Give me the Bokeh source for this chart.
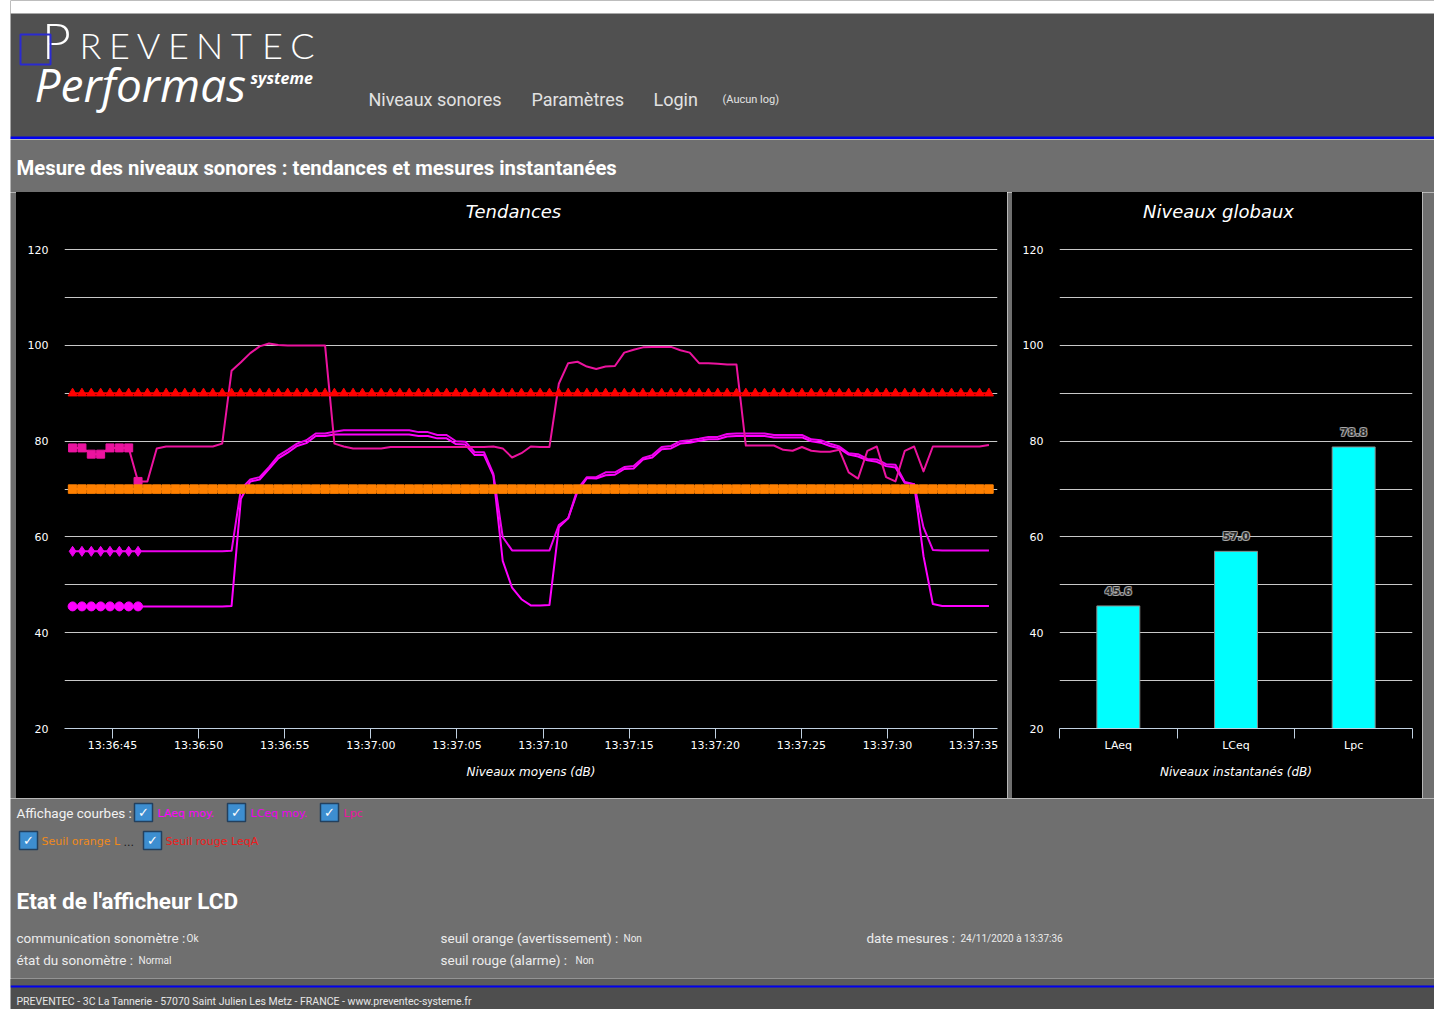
from bokeh.plotting import figure
from bokeh.models import Range1d, FixedTicker, Spacer
from bokeh.layouts import row, column
from bokeh.embed import file_html
from bokeh.resources import INLINE
from bokeh.core.properties import value

# ---------------- data ----------------
time_ticks = [45, 50, 55, 60, 65, 70, 75, 80, 85, 90, 95]  # seconds after 13:36:00
time_tick_labels = ["13:36:45", "13:36:50", "13:36:55", "13:37:00", "13:37:05", "13:37:10",
                    "13:37:15", "13:37:20", "13:37:25", "13:37:30", "13:37:35"]
t_first = 42.68   # first sample, seconds after 13:36:00
t_step = 0.543    # sampling interval (s)

lpc = [78.6, 78.6, 77.3, 77.3, 78.6, 78.6, 78.6, 71.6, 71.6, 78.5,
       78.9, 78.9, 78.9, 78.9, 78.9, 78.9, 79.5, 94.7, 96.5, 98.4,
       99.8, 100.4, 100.1, 100.0, 100.0, 100.0, 100.0, 100.0, 79.5, 78.9,
       78.5, 78.5, 78.5, 78.5, 78.8, 78.8, 78.8, 78.8, 78.8, 78.8,
       78.8, 78.8, 78.8, 78.8, 78.8, 78.9, 78.5, 76.6, 77.5, 78.9,
       78.8, 78.8, 92.0, 96.3, 96.6, 95.6, 95.1, 95.6, 95.7, 98.5,
       99.1, 99.6, 99.7, 99.7, 99.7, 99.0, 98.5, 96.3, 96.3, 96.2,
       96.0, 96.0, 79.1, 79.1, 79.1, 79.1, 78.2, 78.0, 78.8, 78.0,
       77.8, 77.8, 78.2, 73.5, 72.2, 78.0, 78.9, 72.5, 71.6, 78.0,
       78.9, 73.7, 78.9, 78.9, 78.9, 78.9, 78.9, 78.9, 79.2]

lceq_moy = [57.0, 57.0, 57.0, 57.0, 57.0, 57.0, 57.0, 57.0, 57.0, 57.0,
            57.0, 57.0, 57.0, 57.0, 57.0, 57.0, 57.0, 57.1, 70.0, 72.0,
            72.5, 74.6, 77.0, 78.2, 79.5, 80.2, 81.6, 81.6, 82.0, 82.3,
            82.3, 82.3, 82.3, 82.3, 82.3, 82.3, 82.3, 81.9, 81.9, 81.3,
            81.3, 80.0, 79.9, 77.7, 77.7, 73.2, 60.0, 57.2, 57.2, 57.2,
            57.2, 57.2, 62.5, 63.9, 70.0, 72.5, 72.5, 73.5, 73.5, 74.6,
            74.8, 76.5, 77.1, 78.8, 79.0, 80.0, 80.2, 80.5, 80.9, 80.9,
            81.5, 81.6, 81.6, 81.6, 81.6, 81.3, 81.3, 81.3, 81.3, 80.4,
            80.2, 79.5, 78.9, 77.5, 77.3, 76.3, 76.2, 75.2, 75.1, 71.5,
            71.0, 62.0, 57.3, 57.2, 57.2, 57.2, 57.2, 57.2, 57.2]

laeq_moy = [45.5, 45.5, 45.5, 45.5, 45.5, 45.5, 45.5, 45.5, 45.5, 45.5,
            45.5, 45.5, 45.5, 45.5, 45.5, 45.5, 45.5, 45.6, 68.0, 71.6,
            72.0, 74.2, 76.4, 77.6, 79.0, 79.6, 81.1, 81.1, 81.4, 81.4,
            81.4, 81.4, 81.4, 81.4, 81.4, 81.4, 81.4, 81.1, 81.1, 80.6,
            80.6, 79.4, 79.3, 77.1, 77.1, 72.8, 55.0, 49.4, 47.0, 45.7,
            45.7, 45.8, 62.0, 63.9, 69.5, 72.3, 72.2, 72.9, 73.0, 74.2,
            74.3, 76.2, 76.6, 78.3, 78.5, 79.5, 79.7, 80.1, 80.4, 80.4,
            81.0, 81.1, 81.1, 81.1, 81.1, 80.8, 80.8, 80.8, 80.8, 80.0,
            79.7, 79.0, 78.5, 77.2, 76.8, 76.0, 75.7, 74.8, 74.5, 71.3,
            71.0, 56.0, 46.0, 45.6, 45.6, 45.6, 45.6, 45.6, 45.6]

seuil_orange = 70.0   # Seuil orange LeqA
seuil_rouge = 90.0    # Seuil rouge LeqA
n_marked = 8          # leading points drawn with markers

bar_categories = ["LAeq", "LCeq", "Lpc"]
bar_values = [45.6, 57.0, 78.8]

# ---------------- styling ----------------
W = 1424
HEAD_BG = "#505050"
GRAY = "#6f6f6f"
BLUE = "#0000ee"
AX = "#c0d0e0"
GRID = "#c8c8c8"
C_LAEQ = "#ff00ff"
C_LCEQ = "#ee00ee"
C_LPC = "#ec139f"
C_ORANGE = "#ff8000"
C_RED = "#ff0000"
UI = "Roboto"
CHART_FONT = "DejaVu Sans"
Y_MIN, Y_MAX = 20, 120.25   # small headroom so the 120 gridline is not clipped


def deco(width, height, bg, xr=None, **kw):
    f = figure(width=width, height=height, x_range=Range1d(0, xr if xr else width), y_range=Range1d(height, 0),
               output_backend="svg", toolbar_location=None,
               x_axis_location=None, y_axis_location=None,
               background_fill_color=bg, border_fill_color=bg, outline_line_color=None, **kw)
    if "min_border_left" not in kw:
        f.min_border = 0
    f.grid.grid_line_color = None
    return f


def txt(f, x, y, s, size, color, font=UI, style="normal", align="left", baseline="middle"):
    f.text(x=[x], y=[y], text=[s], text_font=value(font), text_font_size=f"{size}px",
           text_color=color, text_font_style=style, text_align=align, text_baseline=baseline)


# ---------------- header (local y == page y) ----------------
hdr = deco(W, 139, HEAD_BG)
hdr.quad(left=[0], right=[W], top=[0], bottom=[13], color="white", line_color=None)
hdr.quad(left=[0], right=[W], top=[136], bottom=[139], color=BLUE, line_color=None)
txt(hdr, 46, 39, "P", 50, "white", font="Lato Light", align="center")
logo_letters = ["R", "E", "V", "E", "N", "T", "E", "C"]
logo_centers = [80, 109, 138, 168, 199, 231, 262, 292]
hdr.text(x=logo_centers, y=[44] * 8, text=logo_letters, text_font=value("Lato Light"),
         text_font_size="36px", text_color="white", text_align="center", text_baseline="middle")
hdr.quad(left=[10], right=[40], top=[34], bottom=[64], fill_color=None, line_color="#2a2ad0", line_width=2)
txt(hdr, 24, 83, "Performas", 46, "white", font="Open Sans", style="italic")
txt(hdr, 240, 77, "systeme", 16, "white", font="Open Sans", style="bold italic")
txt(hdr, 358, 99, "Niveaux sonores", 18, "#e2e2e2")
txt(hdr, 521, 99, "Paramètres", 18, "#e2e2e2")
txt(hdr, 643, 99, "Login", 18, "#e2e2e2")
txt(hdr, 712, 99, "(Aucun log)", 11, "#e2e2e2")

# ---------------- section title ----------------
band = deco(W, 53, GRAY)
txt(band, 6, 28, "Mesure des niveaux sonores : tendances et mesures instantanées", 20.3, "white", style="bold")


# ---------------- charts ----------------
def chart_title(width, bl, br, s, cx):
    # frame-aligned title strip; cx = title centre measured from frame left
    f = deco(width, 40, "black", xr=width - bl - br, min_border_left=bl, min_border_right=br,
             min_border_top=0, min_border_bottom=0)
    f.text(x=[cx], y=[19], text=[s], text_font=value(CHART_FONT), text_font_size="18px",
           text_font_style="italic", text_color="white", text_align="center", text_baseline="middle")
    return f


def style_chart(p, xlabel):
    p.outline_line_color = None
    p.yaxis.ticker = FixedTicker(ticks=[20, 40, 60, 80, 100, 120])
    p.ygrid.ticker = FixedTicker(ticks=[30, 40, 50, 60, 70, 80, 90, 100, 110, 120])
    p.ygrid.grid_line_color = GRID
    p.xgrid.visible = False
    p.yaxis.axis_line_color = None
    p.yaxis.major_tick_line_color = None
    p.yaxis.minor_tick_line_color = None
    p.yaxis.major_tick_out = 0
    p.yaxis.major_tick_in = 0
    p.yaxis.minor_tick_out = 0
    p.yaxis.major_label_standoff = 16
    p.axis.major_label_text_color = "white"
    p.axis.major_label_text_font = CHART_FONT
    p.axis.major_label_text_font_size = "11px"
    p.xaxis.axis_line_color = AX
    p.xaxis.major_tick_line_color = AX
    p.xaxis.major_tick_out = 10
    p.xaxis.major_tick_in = 0
    p.xaxis.major_label_standoff = 0
    p.xaxis.axis_label = xlabel
    p.xaxis.axis_label_text_color = "white"
    p.xaxis.axis_label_text_font = CHART_FONT
    p.xaxis.axis_label_text_font_style = "italic"
    p.xaxis.axis_label_text_font_size = "12px"
    p.xaxis.axis_label_standoff = 10


times = [t_first + i * t_step for i in range(len(lpc))]

left = figure(width=991, height=566, x_range=Range1d(42.21, 96.39), y_range=Range1d(Y_MIN, Y_MAX),
              output_backend="svg", toolbar_location=None, outline_line_color=None,
              background_fill_color="black", border_fill_color="black",
              min_border_left=48, min_border_right=10, min_border_top=16, min_border_bottom=70)
style_chart(left, "Niveaux moyens (dB)")
left.xaxis.ticker = FixedTicker(ticks=time_ticks)
left.xaxis.major_label_overrides = dict(zip(time_ticks, time_tick_labels))
left.xaxis.minor_tick_line_color = None

for vals, col in [(laeq_moy, C_LAEQ), (lceq_moy, C_LCEQ), (lpc, C_LPC)]:
    left.line(times, vals, line_color=col, line_width=2, line_join="round")
left.scatter(times[:n_marked], laeq_moy[:n_marked], marker="circle", size=9, color=C_LAEQ)
left.scatter(times[:n_marked], lceq_moy[:n_marked], marker="diamond", size=10, color=C_LCEQ)
left.scatter(times[:n_marked], lpc[:n_marked], marker="square", size=8, color=C_LPC)

orange_vals = [seuil_orange for _ in times]
red_vals = [seuil_rouge for _ in times]
left.line(times, orange_vals, line_color=C_ORANGE, line_width=2)
left.scatter(times, orange_vals, marker="square", size=8.5, color=C_ORANGE)
left.line(times, red_vals, line_color=C_RED, line_width=2)
left.scatter(times, red_vals, marker="triangle", size=9, color=C_RED)

right = figure(width=410, height=566, x_range=Range1d(0, len(bar_categories)), y_range=Range1d(Y_MIN, Y_MAX),
               output_backend="svg", toolbar_location=None, outline_line_color=None,
               background_fill_color="black", border_fill_color="black",
               min_border_left=47, min_border_right=10, min_border_top=16, min_border_bottom=70)
style_chart(right, "Niveaux instantanés (dB)")
bar_x = [i + 0.5 for i in range(len(bar_categories))]
right.xaxis.ticker = FixedTicker(ticks=bar_x, minor_ticks=list(range(len(bar_categories) + 1)))
right.xaxis.major_label_overrides = dict(zip(bar_x, bar_categories))
right.xaxis.major_tick_out = 0
right.xaxis.major_label_standoff = 0
right.xaxis.minor_tick_line_color = AX
right.xaxis.minor_tick_out = 10
right.xaxis.minor_tick_in = 0
right.vbar(x=bar_x, top=bar_values, bottom=Y_MIN, width=0.365, fill_color="#00ffff", line_color="#8a8a8a")
labels = [f"{v:.1f}" for v in bar_values]
for dx, dy in [(-1, 0), (1, 0), (0, -1), (0, 1), (-1, -1), (1, 1), (-1, 1), (1, -1)]:
    right.text(bar_x, bar_values, text=labels, x_offset=dx, y_offset=-15 + dy, text_align="center",
               text_baseline="middle", text_font=value(CHART_FONT), text_font_size="11px",
               text_font_style="bold", text_color="#b8b8b8", text_alpha=0.6)
right.text(bar_x, bar_values, text=labels, y_offset=-15, text_align="center", text_baseline="middle",
           text_font=value(CHART_FONT), text_font_size="11px", text_font_style="bold", text_color="#2a2a2a")

black_bg = {"background-color": "black"}
chart_row = row(deco(6, 606, GRAY),
                column(chart_title(991, 48, 10, "Tendances", 449), left, styles=black_bg),
                deco(5, 606, GRAY),
                column(chart_title(410, 47, 10, "Niveaux globaux", 159), right, styles=black_bg),
                deco(W - 1412, 606, GRAY))

# ---------------- bottom section ----------------
bot = deco(W, 180, GRAY)
txt(bot, 6, 14, "Affichage courbes :", 13.5, "#f2f2f2")
boxes_x = [133, 226, 319, 18, 142]
boxes_y = [14, 14, 14, 42, 42]
bot.scatter(boxes_x, boxes_y, marker="square", size=18, fill_color="#3d8ed0", line_color="#23405e", line_width=1.5)
bot.text(boxes_x, boxes_y, text=["✓"] * 5, text_align="center", text_baseline="middle",
         text_font=value("DejaVu Sans"), text_font_size="13px", text_color="white")
txt(bot, 147, 15, "LAeq moy.", 11, C_LAEQ, font=CHART_FONT)
txt(bot, 240, 15, "LCeq moy.", 11, C_LCEQ, font=CHART_FONT)
txt(bot, 333, 15, "Lpc", 11, C_LPC, font=CHART_FONT)
txt(bot, 31, 43, "Seuil orange L", 11, "#f08a1a", font=CHART_FONT)
txt(bot, 113, 43, "...", 11, "#1a1a1a", font=CHART_FONT)
txt(bot, 155, 43, "Seuil rouge LeqA", 11, "#ee1c1c", font=CHART_FONT)

txt(bot, 6, 102, "Etat de l'afficheur LCD", 22.5, "white", style="bold")
LT = "#ececec"
txt(bot, 6, 139, "communication sonomètre :", 13.5, LT)
txt(bot, 176, 140, "Ok", 10, LT)
txt(bot, 6, 161, "état du sonomètre :", 13.5, LT)
txt(bot, 128, 162, "Normal", 10, LT)
txt(bot, 430, 139, "seuil orange (avertissement) :", 13.5, LT)
txt(bot, 613, 140, "Non", 10, LT)
txt(bot, 430, 161, "seuil rouge (alarme) :", 13.5, LT)
txt(bot, 565, 162, "Non", 10, LT)
txt(bot, 856, 139, "date mesures :", 13.5, LT)
txt(bot, 950, 140, "24/11/2020 à 13:37:36", 10, LT)

# ---------------- footer ----------------
foot = deco(W, 31, "#4e4e4e")
foot.quad(left=[0], right=[W], top=[0], bottom=[7], color="#5b5b5b", line_color=None)
foot.quad(left=[0], right=[W], top=[7], bottom=[9], color=BLUE, line_color=None)
txt(foot, 6, 23, "PREVENTEC - 3C La Tannerie - 57070 Saint Julien Les Metz - FRANCE - www.preventec-systeme.fr",
    10.5, "#e6e6e6")

page = row(Spacer(width=10), column(hdr, band, chart_row, bot, foot))

open("out.html", "w").write(file_html(page, INLINE))
